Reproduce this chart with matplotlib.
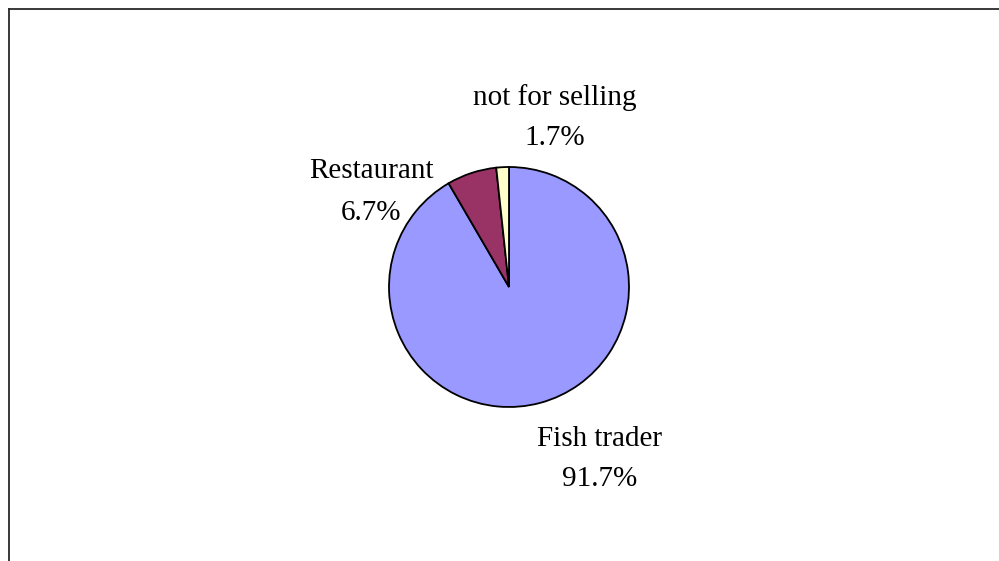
import matplotlib.pyplot as plt
from matplotlib.lines import Line2D

# Buyers of the catch
buyers = ["Fish trader", "Restaurant", "not for selling"]
shares = [91.7, 6.7, 1.7]
colors = ["#9999FF", "#993366", "#FFFFCC"]

# label anchor (x, baseline of first line, baseline of second line), pie radius = 1
label_pos = [(0.758, -1.325, -1.658), (-1.15, 0.908, 0.558), (0.383, 1.517, 1.183)]

plt.rcParams["font.family"] = ["Liberation Serif", "DejaVu Serif"]

fig = plt.figure(figsize=(9.99, 5.61), dpi=100)
ax = fig.add_axes([0, 0, 1, 1])

ax.pie(shares, colors=colors, startangle=90, counterclock=False, radius=1,
       wedgeprops=dict(edgecolor="black", linewidth=1.3))

for name, pct, (x, y1, y2) in zip(buyers, shares, label_pos):
    ax.text(x, y1, name, ha="center", va="baseline", fontsize=21)
    ax.text(x, y2, f"{pct:.1f}%", ha="center", va="baseline", fontsize=21)

ax.set_xlim(-509 / 120, 490 / 120)
ax.set_ylim(-274 / 120, 287 / 120)
ax.set_aspect("equal")
ax.axis("off")

# chart area border (only top and left edges fall inside the image)
fx, fy = 9 / 999, 1 - 9 / 561
fig.add_artist(Line2D([fx, 1], [fy, fy], color="#2a2a2a", lw=1.3, transform=fig.transFigure))
fig.add_artist(Line2D([fx, fx], [0, fy], color="#2a2a2a", lw=1.3, transform=fig.transFigure))

fig.savefig("out.png", dpi=100)
